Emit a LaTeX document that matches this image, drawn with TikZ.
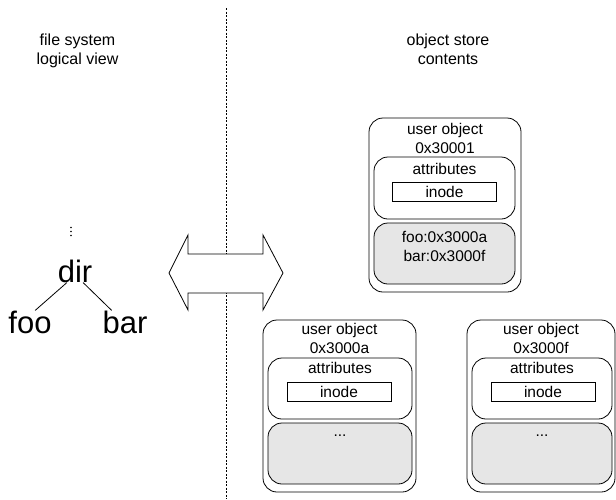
\documentclass[tikz,border=0pt]{standalone}
\usepackage{fontspec}
\setmainfont{Liberation Sans}
\newcommand\headfont{\fontsize{16}{18.5}\selectfont}
\newcommand\objfont{\fontsize{15.5}{19}\selectfont}
\newcommand\treefont{\fontsize{31}{36}\selectfont}
\definecolor{datagray}{HTML}{E6E6E6}
\tikzset{
  objbox/.style={draw, line width=0.8pt, rounded corners=14pt, inner sep=0pt},
  attrbox/.style={draw, line width=0.8pt, rounded corners=14pt, inner sep=0pt},
  databox/.style={draw, line width=0.8pt, fill=datagray, rounded corners=14pt, inner sep=0pt},
  inodebox/.style={draw, line width=0.8pt, inner sep=0pt, minimum width=104pt, minimum height=19pt, font=\objfont},
  objtext/.style={align=center, font=\objfont, inner sep=0pt},
  headtext/.style={align=center, font=\headfont, inner sep=0pt},
  treetext/.style={font=\treefont, inner sep=0pt},
  treedot/.style={circle, fill, inner sep=0pt, minimum size=1.6pt},
}
\begin{document}
\begin{tikzpicture}[x=1pt,y=-1pt]
  \useasboundingbox (0,0) rectangle (616,499);

  \node[headtext] (fsview) at (77.5,51) {file system\\logical view};
  \node[headtext] (osview) at (448,49.5) {object store\\contents};

  \coordinate (septop) at (226,8);
  \coordinate (sepbot) at (226,499);
  \draw[line width=0.7pt, dash pattern=on 2pt off 1.5pt] (septop) -- (sepbot);

  \draw[line width=0.8pt, fill=white]
    (169,273) -- (188,235) -- (188,254) -- (263,254) -- (263,235)
    -- (283,273) -- (263,310) -- (263,293) -- (188,293) -- (188,310) -- cycle;

  \node[treedot] (up1) at (71,227.5) {};
  \node[treedot] (up2) at (71,231.5) {};
  \node[treedot] (up3) at (71,235.5) {};
  \node[treetext] (dir) at (75,271) {dir};
  \node[treetext] (foo) at (30,322) {foo};
  \node[treetext] (bar) at (125,322) {bar};
  \draw[line width=0.8pt] (dir.235) -- (foo.66);
  \draw[line width=0.8pt] (dir.305) -- (bar.139);

  \node[objbox, minimum width=152pt, minimum height=174pt] (obj1) at (445,205) {};
  \node[objtext] (obj1name) at (445,138.5) {user object\\0x30001};
  \node[attrbox, minimum width=141pt, minimum height=62pt] (attr1) at (444.5,188) {};
  \node[objtext] (attr1name) at (444.5,168.5) {attributes};
  \node[inodebox] (inode1) at (444.5,191.5) {inode};
  \node[databox, minimum width=141pt, minimum height=61pt] (data1) at (444.5,253.5) {};
  \node[objtext] (data1text) at (444.5,246.5) {foo:0x3000a\\bar:0x3000f};

  \node[objbox, minimum width=153pt, minimum height=172pt] (obj2) at (339.5,406) {};
  \node[objtext] (obj2name) at (339.5,338) {user object\\0x3000a};
  \node[attrbox, minimum width=144pt, minimum height=61pt] (attr2) at (340,388.5) {};
  \node[objtext] (attr2name) at (340,368) {attributes};
  \node[inodebox] (inode2) at (339,391.5) {inode};
  \node[databox, minimum width=144pt, minimum height=61pt] (data2) at (340,453.5) {};
  \node[objtext] (data2text) at (340,436) {...};

  \node[objbox, minimum width=148pt, minimum height=172pt] (obj3) at (541,406) {};
  \node[objtext] (obj3name) at (541,338) {user object\\0x3000f};
  \node[attrbox, minimum width=140pt, minimum height=61pt] (attr3) at (542,388.5) {};
  \node[objtext] (attr3name) at (542,368) {attributes};
  \node[inodebox] (inode3) at (543,391.5) {inode};
  \node[databox, minimum width=140pt, minimum height=61pt] (data3) at (542,453.5) {};
  \node[objtext] (data3text) at (542,436) {...};
\end{tikzpicture}
\end{document}
